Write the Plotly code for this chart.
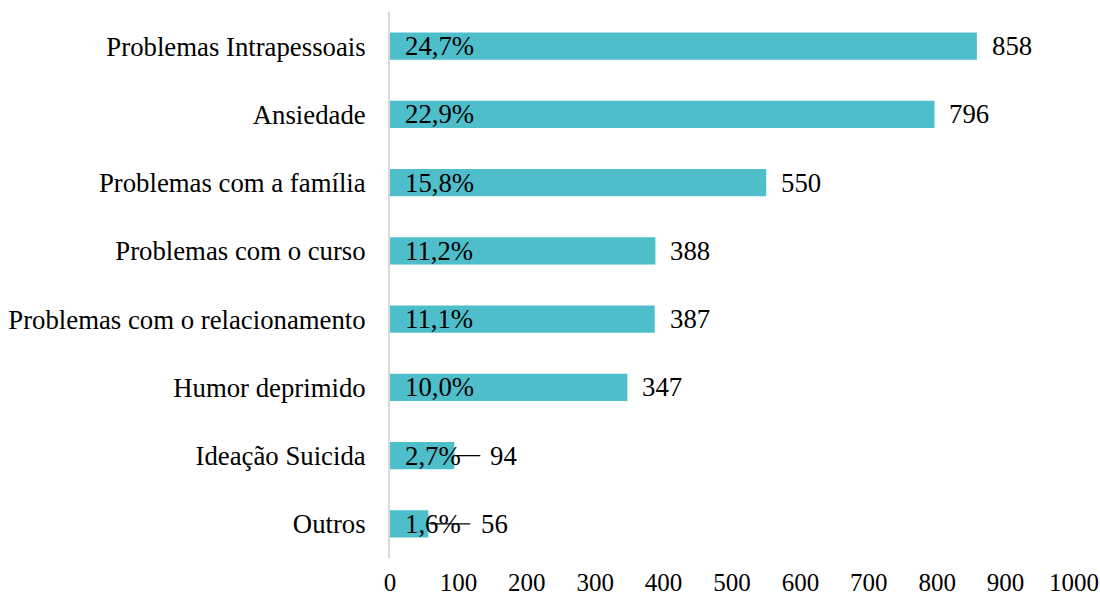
import plotly.graph_objects as go

categories = ["Problemas Intrapessoais", "Ansiedade", "Problemas com a família",
              "Problemas com o curso", "Problemas com o relacionamento",
              "Humor deprimido", "Ideação Suicida", "Outros"]
values = [858, 796, 550, 388, 387, 347, 94, 56]
percent_labels = ["24,7%", "22,9%", "15,8%", "11,2%", "11,1%", "10,0%", "2,7%", "1,6%"]
x_ticks = [0, 100, 200, 300, 400, 500, 600, 700, 800, 900, 1000]

BAR_COLOR = "#4EBECB"
FONT = "Liberation Serif"
TXT = 26.75

fig = go.Figure()
fig.add_trace(go.Bar(
    y=categories, x=values, orientation="h",
    marker=dict(color=BAR_COLOR, line=dict(width=0)),
    width=0.4, hoverinfo="x+y",
))

# leader-line styling for the small bars (pixel offsets from bar end)
leader_style = {"Ideação Suicida": (1, 26, 34), "Outros": (2, 42, 51)}

annotations = []
shapes = []
for cat, val, pct in zip(categories, values, percent_labels):
    annotations.append(dict(x=0, y=cat, xref="x", yref="y", text=pct,
                            showarrow=False, xanchor="left", xshift=13,
                            font=dict(family=FONT, size=TXT, color="black")))
    if cat in leader_style:
        l0, l1, lab = leader_style[cat]
        shapes.append(dict(type="line", xref="x", yref="y", xsizemode="pixel",
                           xanchor=val, x0=l0, x1=l1, y0=cat, y1=cat,
                           line=dict(color="black", width=1.3)))
        shift = lab
    else:
        shift = 13
    annotations.append(dict(x=val, y=cat, xref="x", yref="y", text=str(val),
                            showarrow=False, xanchor="left", xshift=shift,
                            font=dict(family=FONT, size=TXT, color="black")))

fig.update_layout(
    width=1100, height=596,
    margin=dict(l=390, r=26, t=12, b=38),
    paper_bgcolor="white", plot_bgcolor="white",
    font=dict(family=FONT, size=TXT, color="black"),
    showlegend=False,
    annotations=annotations, shapes=shapes,
    bargap=0.6,
)
fig.update_xaxes(range=[0, 1000], tickvals=x_ticks, ticktext=[str(t) for t in x_ticks],
                 showgrid=False, zeroline=False, showline=False, automargin=False,
                 ticks="outside", ticklen=2, tickcolor="rgba(0,0,0,0)",
                 tickfont=dict(family=FONT, size=25, color="black"))
fig.update_yaxes(categoryorder="array", categoryarray=categories, autorange="reversed",
                 showgrid=False, zeroline=False, showline=True, linecolor="#d9d9d9",
                 linewidth=2, ticks="outside", ticklen=17, tickcolor="rgba(0,0,0,0)",
                 automargin=False,
                 tickfont=dict(family=FONT, size=TXT, color="black"))

# remove the default page margin so the 1100x596 figure fills the window exactly
fig.write_html("out.html", config={"displayModeBar": False},
               post_script="document.body.style.margin='0';document.body.style.overflow='hidden';")
